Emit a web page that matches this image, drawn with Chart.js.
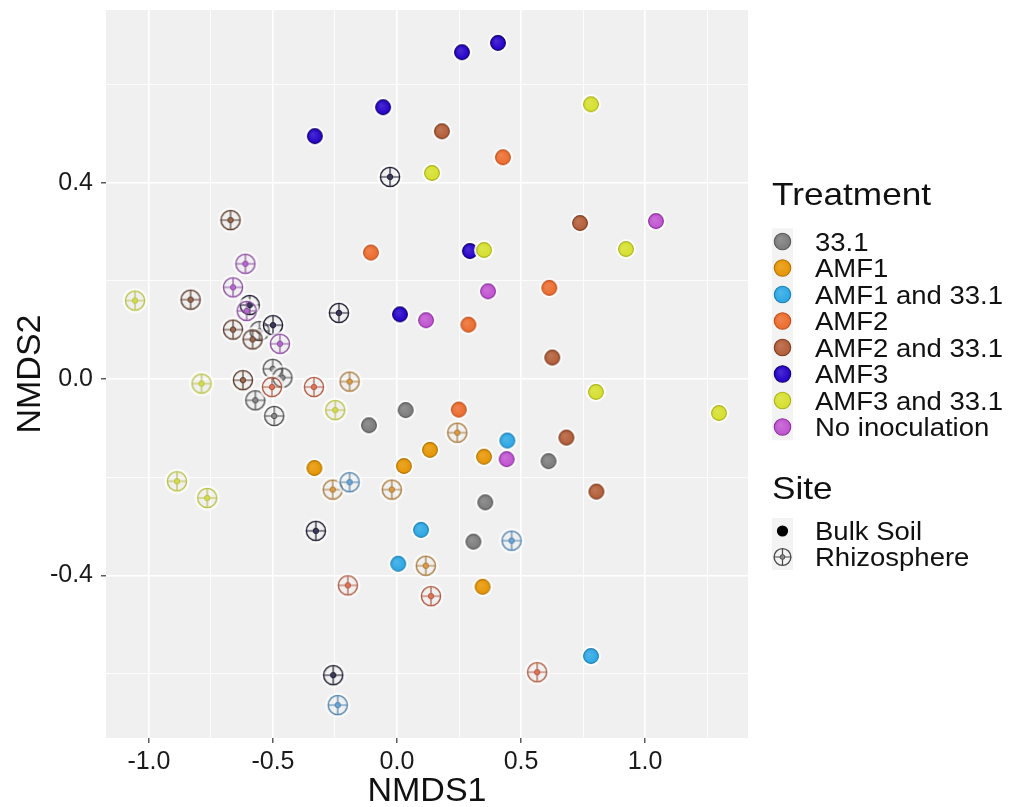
<!DOCTYPE html>
<html>
<head>
<meta charset="utf-8">
<script src="https://cdn.jsdelivr.net/npm/chart.js@4.4.1/dist/chart.umd.min.js"></script>
<style>
  html, body { margin: 0; padding: 0; background: #ffffff; }
  #wrap { width: 1011px; height: 807px; }
</style>
</head>
<body>
<div id="wrap"><canvas id="c" width="1011" height="807"></canvas></div>
<script>
// ---------- data ----------
const treatments = ['33.1', 'AMF1', 'AMF1 and 33.1', 'AMF2', 'AMF2 and 33.1', 'AMF3', 'AMF3 and 33.1', 'No inoculation'];
const sites = ['Bulk Soil', 'Rhizosphere'];

// Bulk Soil (x = NMDS1, y = NMDS2)
const bulk331X      = [-0.113, 0.035, 0.611, 0.356, 0.308];
const bulk331Y      = [-0.094, -0.063, -0.167, -0.251, -0.331];
const bulkAMF1X     = [-0.333, 0.028, 0.133, 0.351, 0.345];
const bulkAMF1Y     = [-0.181, -0.177, -0.144, -0.158, -0.423];
const bulkAMF1_331X = [0.445, 0.097, 0.005, 0.782];
const bulkAMF1_331Y = [-0.125, -0.307, -0.376, -0.564];
const bulkAMF2X     = [0.427, -0.105, 0.614, 0.288, 0.249];
const bulkAMF2Y     = [0.452, 0.258, 0.186, 0.111, -0.062];
const bulkAMF2_331X = [0.181, 0.738, 0.626, 0.683, 0.804];
const bulkAMF2_331Y = [0.505, 0.318, 0.044, -0.119, -0.229];
const bulkAMF3X     = [0.262, 0.407, -0.056, -0.331, 0.294, 0.012];
const bulkAMF3Y     = [0.666, 0.685, 0.554, 0.495, 0.261, 0.132];
const bulkAMF3_331X = [0.782, 0.141, 0.351, 0.923, 0.802, 1.298];
const bulkAMF3_331Y = [0.560, 0.420, 0.263, 0.265, -0.026, -0.069];
const bulkNoX       = [1.044, 0.367, 0.117, 0.442];
const bulkNoY       = [0.322, 0.179, 0.120, -0.163];

// Rhizosphere
const rhizo331X      = [-0.554, -0.501, -0.462, -0.571, -0.495];
const rhizo331Y      = [0.098, 0.021, 0.003, -0.043, -0.075];
const rhizoAMF1X     = [-0.191, -0.259, -0.021, 0.243, 0.116];
const rhizoAMF1Y     = [-0.005, -0.225, -0.225, -0.109, -0.380];
const rhizoAMF1_331X = [-0.191, 0.462, -0.239];
const rhizoAMF1_331Y = [-0.210, -0.329, -0.664];
const rhizoAMF2X     = [-0.504, -0.335, -0.198, 0.137, 0.565];
const rhizoAMF2Y     = [-0.016, -0.016, -0.420, -0.442, -0.597];
const rhizoAMF2_331X = [-0.671, -0.832, -0.661, -0.582, -0.621];
const rhizoAMF2_331Y = [0.324, 0.162, 0.101, 0.081, -0.002];
const rhizoAMF3X     = [-0.028, -0.234, -0.594, -0.500, -0.327, -0.257];
const rhizoAMF3Y     = [0.412, 0.135, 0.151, 0.110, -0.309, -0.603];
const rhizoAMF3_331X = [-1.056, -0.788, -0.249, -0.887, -0.765];
const rhizoAMF3_331Y = [0.160, -0.009, -0.063, -0.208, -0.242];
const rhizoNoX       = [-0.611, -0.661, -0.606, -0.472];
const rhizoNoY       = [0.235, 0.187, 0.139, 0.072];

// Axis ticks
const xMajorTicks = [-1.0, -0.5, 0.0, 0.5, 1.0];
const xTickLabels = ['-1.0', '-0.5', '0.0', '0.5', '1.0'];
const xMinorTicks = [-0.75, -0.25, 0.25, 0.75, 1.25];
const yMajorTicks = [-0.4, 0.0, 0.4];
const yTickLabels = ['-0.4', '0.0', '0.4'];
const yMinorTicks = [-0.6, -0.2, 0.2, 0.6];

// ---------- styles ----------
const FONT = '"Liberation Sans", Arial, Helvetica, sans-serif';
const fillColors  = ['#7b7b7b', '#e69500', '#2ba7e4', '#ec6b2c', '#b25c36', '#2400c8', '#d6df2c', '#c053d0'];
const rimColors   = ['#575757', '#b27200', '#1d7fb3', '#bd4f1c', '#7c3b20', '#12006e', '#aab31c', '#8a2f9c'];
const rhizoLine   = ['#4f4f4f', '#a8783a', '#4f81ad', '#b25a44', '#5b3b2c', '#1d1b2e', '#b9c246', '#8c4fa3'];
const rhizoCenter = ['#8a8a8a', '#dc9c45', '#6aa6d6', '#e07258', '#9e6a52', '#3a3a5a', '#d3db4a', '#b569cc'];

const bulkX = [bulk331X, bulkAMF1X, bulkAMF1_331X, bulkAMF2X, bulkAMF2_331X, bulkAMF3X, bulkAMF3_331X, bulkNoX];
const bulkY = [bulk331Y, bulkAMF1Y, bulkAMF1_331Y, bulkAMF2Y, bulkAMF2_331Y, bulkAMF3Y, bulkAMF3_331Y, bulkNoY];
const rhizoX = [rhizo331X, rhizoAMF1X, rhizoAMF1_331X, rhizoAMF2X, rhizoAMF2_331X, rhizoAMF3X, rhizoAMF3_331X, rhizoNoX];
const rhizoY = [rhizo331Y, rhizoAMF1Y, rhizoAMF1_331Y, rhizoAMF2Y, rhizoAMF2_331Y, rhizoAMF3Y, rhizoAMF3_331Y, rhizoNoY];

function lighten(hex, amt) {
  const n = parseInt(hex.slice(1), 16);
  let r = (n >> 16) & 255, g = (n >> 8) & 255, b = n & 255;
  r = Math.round(r + (255 - r) * amt); g = Math.round(g + (255 - g) * amt); b = Math.round(b + (255 - b) * amt);
  return 'rgb(' + r + ',' + g + ',' + b + ')';
}

function drawBulkGlyph(ctx, cx, cy, fill, rim, r, halo) {
  if (halo) {
    ctx.beginPath();
    ctx.arc(cx, cy, r + 2.6, 0, Math.PI * 2);
    ctx.fillStyle = 'rgba(255,255,255,0.92)';
    ctx.fill();
  }
  const g = ctx.createRadialGradient(cx - r * 0.3, cy - r * 0.3, 0, cx, cy, r);
  g.addColorStop(0, lighten(fill, 0.18));
  g.addColorStop(1, fill);
  ctx.beginPath();
  ctx.arc(cx, cy, r, 0, Math.PI * 2);
  ctx.fillStyle = g;
  ctx.fill();
  ctx.lineWidth = 1.1;
  ctx.strokeStyle = rim;
  ctx.stroke();
}

function drawRhizoGlyph(ctx, cx, cy, line, center, r, halo) {
  if (halo) {
    ctx.beginPath();
    ctx.arc(cx, cy, r + 1.5, 0, Math.PI * 2);
    ctx.lineWidth = 3;
    ctx.strokeStyle = 'rgba(255,255,255,0.75)';
    ctx.stroke();
  }
  ctx.strokeStyle = line;
  ctx.lineWidth = 1.4;
  ctx.beginPath();
  ctx.arc(cx, cy, r, 0, Math.PI * 2);
  ctx.stroke();
  ctx.lineWidth = 1.2;
  ctx.beginPath();
  ctx.moveTo(cx - r, cy); ctx.lineTo(cx + r, cy);
  ctx.moveTo(cx, cy - r); ctx.lineTo(cx, cy + r);
  ctx.stroke();
  ctx.beginPath();
  ctx.arc(cx, cy, r * 0.28, 0, Math.PI * 2);
  ctx.fillStyle = center;
  ctx.fill();
  ctx.lineWidth = 1;
  ctx.stroke();
}

function makeBulkImage(i) {
  const c = document.createElement('canvas');
  c.width = 24; c.height = 24;
  drawBulkGlyph(c.getContext('2d'), 12, 12, fillColors[i], rimColors[i], 7.4, true);
  return c;
}
function makeRhizoImage(i) {
  const c = document.createElement('canvas');
  c.width = 28; c.height = 28;
  drawRhizoGlyph(c.getContext('2d'), 14, 14, rhizoLine[i], rhizoCenter[i], 9.6, true);
  return c;
}

function toPoints(xs, ys) { return xs.map((x, k) => ({ x: x, y: ys[k] })); }

const datasets = [];
treatments.forEach((t, i) => {
  datasets.push({
    label: t + ' / ' + sites[0],
    data: toPoints(bulkX[i], bulkY[i]),
    pointStyle: makeBulkImage(i),
    pointRadius: 8,
    pointHoverRadius: 8,
    order: 20 - i
  });
});
treatments.forEach((t, i) => {
  datasets.push({
    label: t + ' / ' + sites[1],
    data: toPoints(rhizoX[i], rhizoY[i]),
    pointStyle: makeRhizoImage(i),
    pointRadius: 10,
    pointHoverRadius: 10,
    order: 10 - i
  });
});

const majorSet = (arr) => (v) => arr.some(m => Math.abs(m - v) < 1e-9);
const isXMajor = majorSet(xMajorTicks);
const isYMajor = majorSet(yMajorTicks);

// ---------- plugins ----------
const panelBg = {
  id: 'panelBg',
  beforeDraw(chart) {
    const { ctx, chartArea: a } = chart;
    ctx.save();
    ctx.fillStyle = '#ffffff';
    ctx.fillRect(0, 0, chart.width, chart.height);
    ctx.fillStyle = '#f0f0f0';
    ctx.fillRect(a.left, a.top, a.right - a.left, a.bottom - a.top);
    ctx.restore();
  }
};

function stretchedText(ctx, str, x, y, size, sx, align) {
  ctx.save();
  ctx.font = size + 'px ' + FONT;
  ctx.fillStyle = '#111111';
  ctx.textAlign = align || 'left';
  ctx.textBaseline = 'alphabetic';
  ctx.translate(x, y);
  ctx.scale(sx, 1);
  ctx.fillText(str, 0, 0);
  ctx.restore();
}

const legendAndTitles = {
  id: 'legendAndTitles',
  afterDraw(chart) {
    const ctx = chart.ctx;
    const a = chart.chartArea;
    // axis titles
    ctx.save();
    ctx.font = '34px ' + FONT;
    ctx.fillStyle = '#111111';
    ctx.textAlign = 'center';
    ctx.textBaseline = 'alphabetic';
    ctx.fillText('NMDS1', (a.left + a.right) / 2, 801);
    ctx.translate(40, (a.top + a.bottom) / 2);
    ctx.rotate(-Math.PI / 2);
    ctx.fillText('NMDS2', 0, 0);
    ctx.restore();

    // Treatment legend
    const keyX = 782.5, textX = 815, row0 = 241.5, dy = 26.5;
    stretchedText(ctx, 'Treatment', 772, 205, 32, 1.1);
    ctx.save();
    ctx.fillStyle = '#f3f3f3';
    ctx.fillRect(772, row0 - dy / 2, 21, dy * treatments.length);
    ctx.restore();
    treatments.forEach((t, i) => {
      const y = row0 + i * dy;
      ctx.save();
      drawBulkGlyph(ctx, keyX, y, fillColors[i], rimColors[i], 8.2, false);
      ctx.restore();
      stretchedText(ctx, t, textX, y + 9, 25, 1.1);
    });

    // Site legend
    stretchedText(ctx, 'Site', 772, 499, 32, 1.1);
    const s0 = 531, sdy = 26;
    ctx.save();
    ctx.fillStyle = '#f3f3f3';
    ctx.fillRect(772, s0 - sdy / 2, 21, sdy * 2);
    ctx.beginPath();
    ctx.arc(keyX, s0, 5.6, 0, Math.PI * 2);
    ctx.fillStyle = '#000000';
    ctx.fill();
    drawRhizoGlyph(ctx, keyX, s0 + sdy, '#4a4a4a', '#8a8a8a', 8.4, false);
    ctx.restore();
    stretchedText(ctx, sites[0], textX, s0 + 9, 25, 1.1);
    stretchedText(ctx, sites[1], textX, s0 + sdy + 9, 25, 1.1);
  }
};

// ---------- chart ----------
const PANEL = { left: 106, right: 748, top: 10, bottom: 738 };

new Chart(document.getElementById('c'), {
  type: 'scatter',
  data: { datasets: datasets },
  options: {
    responsive: false,
    animation: false,
    devicePixelRatio: 1,
    layout: { autoPadding: false, padding: { left: 0, right: 1011 - PANEL.right, top: PANEL.top, bottom: 0 } },
    plugins: { legend: { display: false }, tooltip: { enabled: false } },
    events: [],
    scales: {
      x: {
        type: 'linear',
        position: 'bottom',
        min: -1.173,
        max: 1.415,
        afterFit(s) { s.height = 807 - PANEL.bottom; s.paddingLeft = 0; s.paddingRight = 0; },
        afterBuildTicks(s) {
          s.ticks = xMajorTicks.concat(xMinorTicks).sort((p, q) => p - q).map(v => ({ value: v }));
        },
        ticks: {
          autoSkip: false,
          maxRotation: 0,
          padding: 4,
          color: '#1a1a1a',
          font: { family: FONT, size: 25 },
          callback(v) { const k = xMajorTicks.findIndex(m => Math.abs(m - v) < 1e-9); return k >= 0 ? xTickLabels[k] : ''; }
        },
        grid: {
          color: '#ffffff',
          lineWidth: (c) => (c.tick && isXMajor(c.tick.value)) ? 1.6 : 0.8,
          drawTicks: true,
          tickLength: 5,
          tickWidth: 1.2,
          tickColor: (c) => (c.tick && isXMajor(c.tick.value)) ? '#333333' : 'rgba(0,0,0,0)'
        },
        border: { display: false }
      },
      y: {
        type: 'linear',
        position: 'left',
        min: -0.731,
        max: 0.752,
        afterFit(s) { s.width = PANEL.left; s.paddingTop = 0; s.paddingBottom = 0; },
        afterBuildTicks(s) {
          s.ticks = yMajorTicks.concat(yMinorTicks).sort((p, q) => p - q).map(v => ({ value: v }));
        },
        ticks: {
          autoSkip: false,
          padding: 8,
          color: '#1a1a1a',
          font: { family: FONT, size: 25 },
          callback(v) { const k = yMajorTicks.findIndex(m => Math.abs(m - v) < 1e-9); return k >= 0 ? yTickLabels[k] : ''; }
        },
        grid: {
          color: '#ffffff',
          lineWidth: (c) => (c.tick && isYMajor(c.tick.value)) ? 1.6 : 0.8,
          drawTicks: true,
          tickLength: 5,
          tickWidth: 1.2,
          tickColor: (c) => (c.tick && isYMajor(c.tick.value)) ? '#333333' : 'rgba(0,0,0,0)'
        },
        border: { display: false }
      }
    }
  },
  plugins: [panelBg, legendAndTitles]
});
</script>
</body>
</html>
